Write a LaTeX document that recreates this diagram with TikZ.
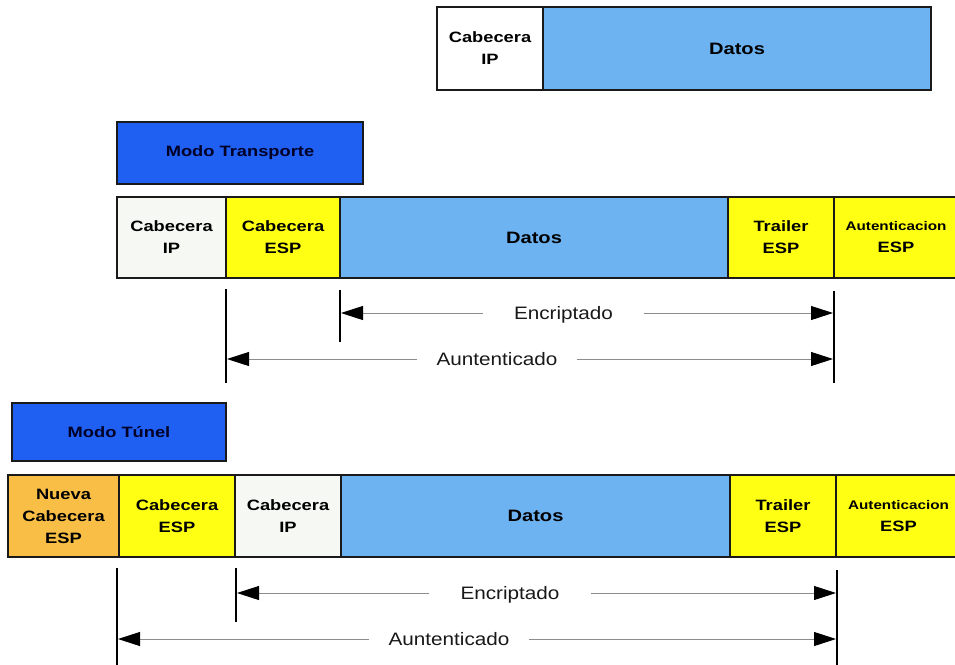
\documentclass[tikz,border=0pt]{standalone}
\usepackage{fontspec}
\setmainfont{Liberation Sans}
\newfontfamily\boxfont[FakeStretch=1.22]{Liberation Sans}
\newfontfamily\spanfont[FakeStretch=1.15]{Liberation Sans}
\usetikzlibrary{arrows.meta}

\definecolor{edge}{HTML}{1A1A1A}
\definecolor{ipfill}{HTML}{F5F8F3}
\definecolor{espyellow}{HTML}{FFFF14}
\definecolor{datablue}{HTML}{6DB3F2}
\definecolor{neworange}{HTML}{F8BE45}
\definecolor{modeblue}{HTML}{1F5FF2}
\definecolor{spangray}{HTML}{8C8C8C}

\tikzset{
  cell/.style={draw=edge, line width=1.6pt, inner sep=0pt, outer sep=0pt,
    align=center, text=black,
    font={\boxfont\bfseries\fontsize{15}{22}\selectfont}},
  datafont/.style={font={\boxfont\bfseries\fontsize{16.5}{20}\selectfont}},
  modebox/.style={draw=edge, line width=1.8pt, fill=modeblue, inner sep=0pt,
    text=black!85!blue, font={\boxfont\bfseries\fontsize{15}{18}\selectfont}},
  spanlabel/.style={text=black!90, font={\spanfont\fontsize{18}{20}\selectfont},
    text height=12.9pt, text depth=0pt, inner ysep=0pt},
  spanline/.style={draw=spangray, line width=0.9pt,
    -{Triangle[length=22pt,width=14pt,color=black]}, shorten >=1pt},
  tickline/.style={draw=black, line width=2pt}
}

\begin{document}
\begin{tikzpicture}[x=1pt,y=-1pt]
  \useasboundingbox (0,0) rectangle (955,664);
  \clip (0,0) rectangle (955,664);
  \fill[white] (0,0) rectangle (955,664);

  % original IP packet
  \node[cell, fill=white, minimum width=106pt, minimum height=83pt] (pIP) at (490,48.5) {Cabecera\\IP};
  \node[cell, fill=datablue, datafont, minimum width=388pt, minimum height=83pt] (pData) at (737,48.5) {Datos};

  % transport mode
  \node[modebox, minimum width=246pt, minimum height=62pt] (mTrans) at (240,153) {Modo Transporte};

  \node[cell, fill=ipfill, minimum width=109pt, minimum height=81pt] (tIP) at (171.5,237.5) {Cabecera\\IP};
  \node[cell, fill=espyellow, minimum width=114pt, minimum height=81pt] (tESP) at (283,237.5) {Cabecera\\ESP};
  \node[cell, fill=datablue, datafont, minimum width=388pt, minimum height=81pt] (tData) at (534,237.5) {Datos};
  \node[cell, fill=espyellow, minimum width=106pt, minimum height=81pt] (tTrail) at (781,237.5) {Trailer\\ESP};
  \node[cell, fill=espyellow, minimum width=124pt, minimum height=81pt] (tAuth) at (896,237.5) {{\fontsize{12.5}{22}\selectfont Autenticacion}\\ESP};

  \coordinate (tA1) at (226,289);  \coordinate (tA2) at (226,383);
  \coordinate (tE1) at (340,290);  \coordinate (tE2) at (340,342);
  \coordinate (tR1) at (834,291);  \coordinate (tR2) at (834,383);
  \draw[tickline] (tA1) -- (tA2);
  \draw[tickline] (tE1) -- (tE2);
  \draw[tickline] (tR1) -- (tR2);

  \node[spanlabel, inner xsep=31pt] (tEnc) at (563.5,313) {Encriptado};
  \node[spanlabel, inner xsep=19pt] (tAut) at (497,359) {Auntenticado};
  \draw[spanline] (tEnc.west) -- (tEnc.west -| tE1);
  \draw[spanline] (tEnc.east) -- (tEnc.east -| tR1);
  \draw[spanline] (tAut.west) -- (tAut.west -| tA1);
  \draw[spanline] (tAut.east) -- (tAut.east -| tR1);

  % tunnel mode
  \node[modebox, minimum width=214pt, minimum height=58pt] (mTun) at (119,432) {Modo Túnel};

  \node[cell, fill=neworange, minimum width=111pt, minimum height=82pt] (uNew) at (63.5,516) {Nueva\\Cabecera\\ESP};
  \node[cell, fill=espyellow, minimum width=116pt, minimum height=82pt] (uESP) at (177,516) {Cabecera\\ESP};
  \node[cell, fill=ipfill, minimum width=106pt, minimum height=82pt] (uIP) at (288,516) {Cabecera\\IP};
  \node[cell, fill=datablue, datafont, minimum width=389pt, minimum height=82pt] (uData) at (535.5,516) {Datos};
  \node[cell, fill=espyellow, minimum width=106pt, minimum height=82pt] (uTrail) at (783,516) {Trailer\\ESP};
  \node[cell, fill=espyellow, minimum width=125pt, minimum height=82pt] (uAuth) at (898.5,516) {{\fontsize{12.5}{22}\selectfont Autenticacion}\\ESP};

  \coordinate (uA1) at (117,568);  \coordinate (uA2) at (117,670);
  \coordinate (uE1) at (236,568);  \coordinate (uE2) at (236,622);
  \coordinate (uR1) at (837,570);  \coordinate (uR2) at (837,670);
  \draw[tickline] (uA1) -- (uA2);
  \draw[tickline] (uE1) -- (uE2);
  \draw[tickline] (uR1) -- (uR2);

  \node[spanlabel, inner xsep=31pt] (uEnc) at (510,593) {Encriptado};
  \node[spanlabel, inner xsep=19pt] (uAut) at (449,639) {Auntenticado};
  \draw[spanline] (uEnc.west) -- (uEnc.west -| uE1);
  \draw[spanline] (uEnc.east) -- (uEnc.east -| uR1);
  \draw[spanline] (uAut.west) -- (uAut.west -| uA1);
  \draw[spanline] (uAut.east) -- (uAut.east -| uR1);
\end{tikzpicture}
\end{document}
